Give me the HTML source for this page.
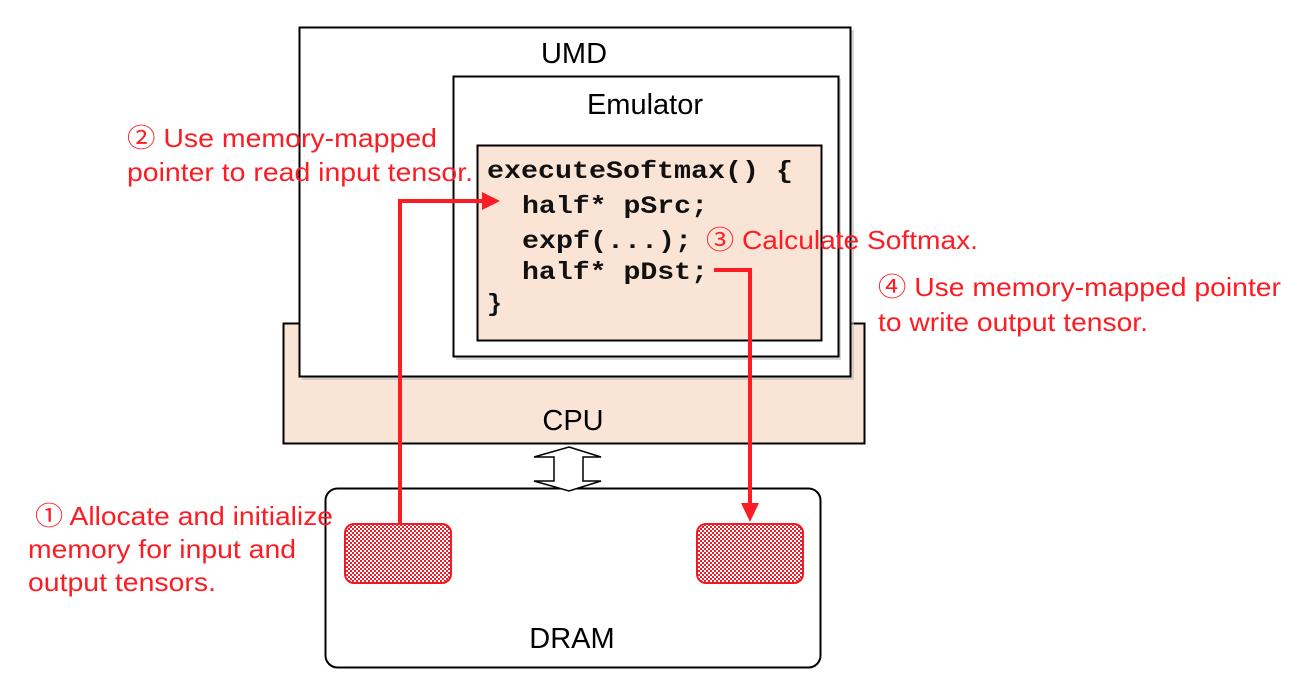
<!DOCTYPE html>
<html><head><meta charset="utf-8"><style>
html,body{margin:0;padding:0;background:#fff;width:1312px;height:696px;overflow:hidden}
svg text{font-family:"Liberation Sans","Noto Sans CJK JP",sans-serif}
.r{fill:#fc1c24;font-size:26px}
.c{font-family:"Liberation Mono",monospace !important;font-weight:bold;font-size:25px;fill:#111}
</style></head><body>
<svg width="1312" height="696" viewBox="0 0 1312 696" xmlns="http://www.w3.org/2000/svg">
<defs>
<pattern id="chk" width="4" height="4" patternUnits="userSpaceOnUse">
<rect width="4" height="4" fill="#fff"/><rect width="2" height="2" fill="#e8202a"/><rect x="2" y="2" width="2" height="2" fill="#e8202a"/>
</pattern>
</defs>
<!-- CPU -->
<rect x="283.5" y="323.5" width="581" height="120" fill="#fae4d6" stroke="#000" stroke-width="2"/>
<text x="573" y="430" font-size="29" text-anchor="middle">CPU</text>
<!-- UMD -->
<rect x="302" y="30" width="552" height="350" fill="#bbb" opacity="0.6"/>
<rect x="299.5" y="27.5" width="551" height="349" fill="#fff" stroke="#000" stroke-width="2"/>
<text x="574" y="63" font-size="29" text-anchor="middle">UMD</text>
<!-- Emulator -->
<rect x="456" y="79" width="385" height="281" fill="#bbb" opacity="0.6"/>
<rect x="453.5" y="76.5" width="385" height="280" fill="#fff" stroke="#000" stroke-width="2"/>
<text x="645" y="114" font-size="29" text-anchor="middle">Emulator</text>
<!-- code box -->
<rect x="477.5" y="145.5" width="344" height="195" fill="#fae4d6" stroke="#000" stroke-width="2"/>
<text class="c" x="487" y="178" textLength="306" lengthAdjust="spacingAndGlyphs">executeSoftmax() {</text>
<text class="c" x="522" y="213" textLength="186" lengthAdjust="spacingAndGlyphs">half* pSrc;</text>
<text class="c" x="522" y="248" textLength="170" lengthAdjust="spacingAndGlyphs">expf(...);</text>
<text class="c" x="522" y="279" textLength="186" lengthAdjust="spacingAndGlyphs">half* pDst;</text>
<text class="c" x="487" y="311">}</text>
<!-- DRAM -->
<rect x="325.5" y="488.5" width="495" height="179" rx="12" fill="#fff" stroke="#000" stroke-width="2"/>
<text x="572" y="648" font-size="29" text-anchor="middle">DRAM</text>
<!-- double arrow -->
<polygon points="569,447 601,457 583,457 583,481 601,481 569,491 534,481 554,481 554,457 534,457" fill="#fff" stroke="#000" stroke-width="1.5"/>
<!-- red blocks -->
<rect x="345" y="524" width="106" height="59" rx="9" fill="url(#chk)" stroke="#f01a24" stroke-width="2"/>
<rect x="697" y="524" width="106" height="59" rx="9" fill="url(#chk)" stroke="#f01a24" stroke-width="2"/>
<!-- red connectors -->
<polyline points="400,524 400,201 484,201" fill="none" stroke="#fc1c24" stroke-width="4"/>
<polygon points="482,192 500,201 482,210" fill="#fc1c24"/>
<polyline points="714,270 750,270 750,505" fill="none" stroke="#fc1c24" stroke-width="4"/>
<polygon points="741,503 750,522 759,503" fill="#fc1c24"/>
<!-- labels -->
<text class="r" x="127" y="147" textLength="310" lengthAdjust="spacingAndGlyphs">② Use memory-mapped</text>
<text class="r" x="127" y="181" textLength="346" lengthAdjust="spacingAndGlyphs">pointer to read input tensor.</text>
<text class="r" x="706" y="249" textLength="272" lengthAdjust="spacingAndGlyphs">③ Calculate Softmax.</text>
<text class="r" x="878" y="296" textLength="403" lengthAdjust="spacingAndGlyphs">④ Use memory-mapped pointer</text>
<text class="r" x="878" y="331" textLength="270" lengthAdjust="spacingAndGlyphs">to write output tensor.</text>
<text class="r" x="35" y="525" textLength="298" lengthAdjust="spacingAndGlyphs">① Allocate and initialize</text>
<text class="r" x="28" y="558" textLength="268" lengthAdjust="spacingAndGlyphs">memory for input and</text>
<text class="r" x="28" y="591" textLength="188" lengthAdjust="spacingAndGlyphs">output tensors.</text>
</svg>
</body></html>
